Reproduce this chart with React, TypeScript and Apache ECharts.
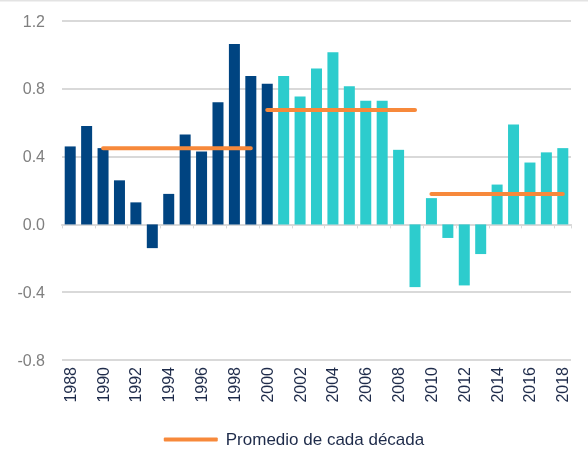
import React, { useEffect, useRef } from "react";
import * as echarts from "echarts";

const years: string[] = [
  "1988", "1989", "1990", "1991", "1992", "1993", "1994", "1995", "1996", "1997",
  "1998", "1999", "2000", "2001", "2002", "2003", "2004", "2005", "2006", "2007",
  "2008", "2009", "2010", "2011", "2012", "2013", "2014", "2015", "2016", "2017", "2018",
];

const values: number[] = [
  0.46, 0.58, 0.45, 0.26, 0.13, -0.14, 0.18, 0.53, 0.43, 0.72,
  1.065, 0.875, 0.83, 0.875, 0.755, 0.92, 1.015, 0.815, 0.73, 0.73,
  0.44, -0.37, 0.155, -0.08, -0.36, -0.175, 0.235, 0.59, 0.365, 0.425, 0.45,
];

const lastDarkYear = "2000";

const decadeStarts: string[] = ["1990", "2000", "2010"];
const decadeEnds: string[] = ["1999", "2009", "2018"];
const decadeAverages: number[] = [0.45, 0.675, 0.18];

const yTicks: number[] = [-0.8, -0.4, 0.0, 0.4, 0.8, 1.2];

const legendName = "Promedio de cada década";

const DARK = "#004481";
const TURQ = "#2DCCCD";
const ORANGE = "#F7893B";
const NAVY = "#1E2B4A";
const FONT = "Liberation Sans, Arial, sans-serif";

export default function App() {
  const ref = useRef<HTMLDivElement>(null);

  useEffect(() => {
    if (!ref.current) return;
    const chart = echarts.init(ref.current, undefined, { renderer: "svg" });

    const barData = values.map((v, i) => ({
      value: v,
      itemStyle: { color: Number(years[i]) <= Number(lastDarkYear) ? DARK : TURQ },
    }));

    const avgSeries = decadeAverages.map((avg, k) => {
      const s = years.indexOf(decadeStarts[k]);
      const e = years.indexOf(decadeEnds[k]);
      return {
        name: legendName,
        type: "line",
        symbol: "none",
        xAxisIndex: 0,
        data: years.map((_, i) => (i >= s && i <= e ? avg : null)),
        lineStyle: { color: ORANGE, width: 4, cap: "round" },
        itemStyle: { color: ORANGE },
        connectNulls: false,
        z: 5,
      };
    });

    chart.setOption({
      animation: false,
      textStyle: { fontFamily: FONT },
      grid: { left: 62, right: 17, top: 21, bottom: 90, containLabel: false },
      legend: {
        top: 426,
        left: "center",
        data: [legendName],
        icon: "roundRect",
        itemWidth: 54,
        itemHeight: 4,
        itemStyle: { color: ORANGE },
        textStyle: { color: NAVY, fontSize: 17, fontFamily: FONT, padding: [0, 0, 0, 3] },
      },
      xAxis: [
        {
          type: "category",
          data: years,
          position: "bottom",
          axisLine: { show: false, onZero: false },
          axisTick: { show: false },
          axisLabel: {
            rotate: 90,
            interval: 1,
            color: NAVY,
            fontSize: 16,
            margin: 7,
          },
        },
        {
          type: "category",
          data: years,
          position: "top",
          axisLine: { show: true, onZero: true, lineStyle: { color: "#D9D9D9", width: 2 } },
          axisTick: { show: true, interval: 1, inside: true, length: 4, lineStyle: { color: "#D9D9D9", width: 1 } },
          axisLabel: { show: false },
        },
      ],
      yAxis: {
        type: "value",
        min: yTicks[0],
        max: yTicks[yTicks.length - 1],
        interval: 0.4,
        axisLine: { show: false },
        axisTick: { show: false },
        axisLabel: {
          color: "#7F7F7F",
          fontSize: 16,
          margin: 17,
          formatter: (v: number) => v.toFixed(1),
        },
        splitLine: { lineStyle: { color: "#D9D9D9", width: 2 } },
      },
      series: [
        {
          type: "bar",
          data: barData,
          barWidth: "67%",
          xAxisIndex: 0,
          z: 2,
        },
        ...avgSeries,
      ],
      graphic: [
        {
          type: "rect",
          left: 0,
          top: 0,
          shape: { width: 588, height: 1.5 },
          style: { fill: "#E3E3E3" },
          silent: true,
        },
      ],
    });

    return () => chart.dispose();
  }, []);

  return (
    <div
      ref={ref}
      style={{ position: "fixed", left: 0, top: 0, width: 588, height: 450 }}
    />
  );
}
